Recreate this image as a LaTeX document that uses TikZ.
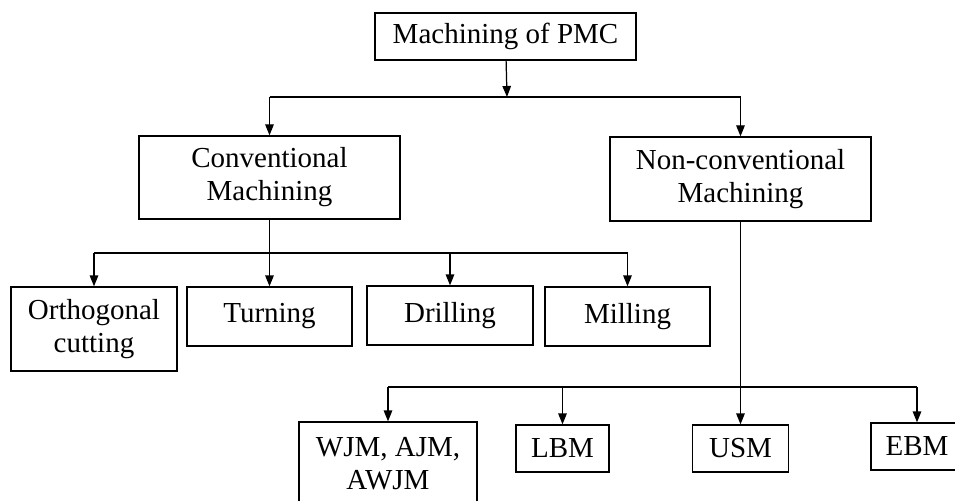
\documentclass[tikz,border=0pt]{standalone}
\usepackage{fontspec}
\setmainfont{Liberation Serif}
\usetikzlibrary{arrows.meta}

\tikzset{
  box/.style={draw, line width=0.7pt, align=center, inner sep=0pt,
    font=\fontsize{16.5}{18.8}\selectfont},
  arr/.style={-{Triangle[length=2.2mm,width=1.7mm]}, line width=0.7pt},
  link/.style={line width=0.7pt}
}

\begin{document}
\begin{tikzpicture}
    \useasboundingbox (0,0) rectangle (19.1,-10.02);
    \clip (0,0) rectangle (19.1,-10.02);

    \node[box, minimum width=5.22cm, minimum height=0.94cm] (pmc) at (10.11,-0.73) {Machining of PMC};

    \node[box, minimum width=5.22cm, minimum height=1.66cm] (conv) at (5.39,-3.55) {Conventional\\Machining};
    \node[box, minimum width=5.22cm, minimum height=1.68cm] (nonconv) at (14.81,-3.58) {Non-conventional\\Machining};

    \node[box, minimum width=3.32cm, minimum height=1.68cm] (orth) at (1.88,-6.58) {Orthogonal\\cutting};
    \node[box, minimum width=3.30cm, minimum height=1.18cm] (turn) at (5.39,-6.33) {Turning};
    \node[box, minimum width=3.32cm, minimum height=1.18cm] (drill) at (9.0,-6.31) {Drilling};
    \node[box, minimum width=3.30cm, minimum height=1.18cm] (mill) at (12.55,-6.33) {Milling};

    \node[box, minimum width=3.56cm, minimum height=1.68cm] (wjm) at (7.76,-9.28) {WJM, AJM,\\AWJM};
    \node[box, minimum width=1.86cm, minimum height=0.94cm] (lbm) at (11.25,-8.97) {LBM};
    \node[box, minimum width=1.92cm, minimum height=0.94cm] (usm) at (14.81,-8.97) {USM};
    \node[box, minimum width=1.84cm, minimum height=0.94cm] (ebm) at (18.34,-8.93) {EBM};

    \coordinate (j1) at (10.14,-1.94);
    \coordinate (j2) at (5.39,-5.06);
    \coordinate (j3) at (14.81,-7.74);

    \draw[arr] (pmc) -- (j1);
    \draw[link] (j1 -| conv) -- (j1 -| nonconv);
    \draw[arr] (j1 -| conv) -- (conv);
    \draw[arr] (j1 -| nonconv) -- (nonconv);

    \draw[arr] (conv) -- (turn);
    \draw[link] (j2 -| orth) -- (j2 -| mill);
    \draw[arr] (j2 -| orth) -- (orth);
    \draw[arr] (j2 -| drill) -- (drill);
    \draw[arr] (j2 -| mill) -- (mill);

    \draw[arr] (nonconv) -- (usm);
    \draw[link] (j3 -| wjm) -- (j3 -| ebm);
    \draw[arr] (j3 -| wjm) -- (wjm);
    \draw[arr] (j3 -| lbm) -- (lbm);
    \draw[arr] (j3 -| ebm) -- (ebm);
\end{tikzpicture}
\end{document}
